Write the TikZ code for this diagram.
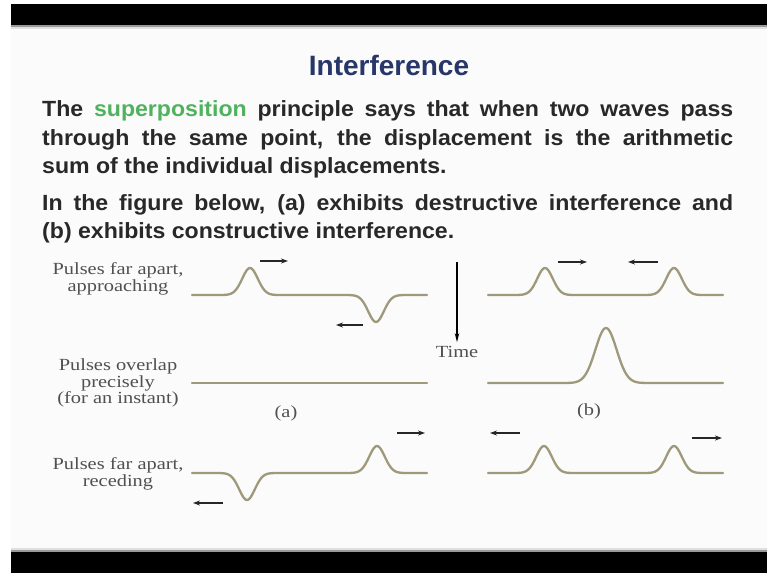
\documentclass[tikz,border=0pt]{standalone}
\usepackage{fontspec}
\setmainfont{Liberation Sans}
\newfontfamily\titlefont{Liberation Sans}
\newfontfamily\bodyfont[FakeStretch=1.05]{Liberation Sans}
\newfontfamily\labelfont[FakeStretch=1.2]{Liberation Serif}
\usetikzlibrary{arrows.meta}
\definecolor{navy}{RGB}{40,55,105}
\definecolor{supgreen}{RGB}{80,178,95}
\definecolor{bodytext}{RGB}{40,40,40}
\definecolor{labelgray}{RGB}{80,80,80}
\definecolor{wavecol}{RGB}{158,153,122}
\definecolor{slidebg}{RGB}{251,251,251}
\begin{document}
\begin{tikzpicture}[x=1pt,y=-1pt,
  wave/.style={draw=wavecol, line width=2.3pt, line join=round, line cap=round},
  motion/.style={draw=black!85, line width=1.4pt, -{Stealth[length=7pt,width=5pt]}},
  lbl/.style={font=\labelfont\fontsize{17}{16.5}\selectfont, text=labelgray, align=center, inner sep=0pt},
  bodyline/.style={font=\bodyfont\bfseries\fontsize{22}{26}\selectfont, text=bodytext, anchor=base west, inner sep=0pt},
]
\useasboundingbox (0,0) rectangle (767,573);
\fill[white] (0,0) rectangle (767,573);
\fill[slidebg] (11,4) rectangle (767,573);
% black bars
\fill[black] (11,4) rectangle (767,25);
\fill[black!40] (11,25) rectangle (767,27);
\fill[black!12] (11,27) rectangle (767,29);
\fill[black!12] (11,548) rectangle (767,550);
\fill[black!40] (11,550) rectangle (767,552);
\fill[black] (11,552) rectangle (767,573);

% title and text
\node[font=\titlefont\bfseries\fontsize{28}{32}\selectfont, text=navy, anchor=base, inner sep=0pt] (title) at (389,75) {Interference};
\node[bodyline] (l1) at (42,116) {\makebox[691pt][s]{The \textcolor{supgreen}{superposition} principle says that when two waves pass}};
\node[bodyline] (l2) at (42,145) {\makebox[691pt][s]{through the same point, the displacement is the arithmetic}};
\node[bodyline] (l3) at (42,173) {sum of the individual displacements.};
\node[bodyline] (l4) at (42,210) {\makebox[691pt][s]{In the figure below, (a) exhibits destructive interference and}};
\node[bodyline] (l5) at (42,238) {(b) exhibits constructive interference.};

% labels
\node[lbl] (p1) at (118,279) {Pulses far apart,\\approaching};
\node[lbl] (p2) at (118,383) {Pulses overlap\\precisely\\(for an instant)};
\node[lbl] (p3) at (118,474) {Pulses far apart,\\receding};
\node[lbl] (la) at (286,413) {(a)};
\node[lbl] (lb) at (589,411) {(b)};
\node[lbl] (time) at (457,352) {Time};
\coordinate (tstart) at (457,262);
\draw[line width=1.1pt, -{Stealth[length=9pt,width=4.5pt]}, shorten >=4pt] (tstart) -- (time.north);

% (a) row 1
\draw[wave] (192,295) -- (220,295)
  -- plot[domain=220:280,samples=49] (\x,{295-27*exp(-((\x-250)/11)*((\x-250)/11))})
  -- (346,295)
  -- plot[domain=346:406,samples=49] (\x,{295+27*exp(-((\x-376)/11)*((\x-376)/11))})
  -- (427,295);
% (b) row 1
\draw[wave] (488,295) -- (515,295)
  -- plot[domain=515:575,samples=49] (\x,{295-27*exp(-((\x-545)/11)*((\x-545)/11))})
  -- (644,295)
  -- plot[domain=644:704,samples=49] (\x,{295-27*exp(-((\x-674)/11)*((\x-674)/11))})
  -- (723,295);
% row 2
\draw[wave] (192,383) -- (427,383);
\draw[wave] (488,383) -- (564,383)
  -- plot[domain=564:648,samples=61] (\x,{383-55*exp(-((\x-606)/15)*((\x-606)/15))})
  -- (723,383);
% (a) row 3
\draw[wave] (192,473) -- (217,473)
  -- plot[domain=217:277,samples=49] (\x,{473+27*exp(-((\x-247)/11)*((\x-247)/11))})
  -- (347,473)
  -- plot[domain=347:407,samples=49] (\x,{473-27*exp(-((\x-377)/11)*((\x-377)/11))})
  -- (427,473);
% (b) row 3
\draw[wave] (488,473) -- (514,473)
  -- plot[domain=514:574,samples=49] (\x,{473-27*exp(-((\x-544)/11)*((\x-544)/11))})
  -- (644,473)
  -- plot[domain=644:704,samples=49] (\x,{473-27*exp(-((\x-674)/11)*((\x-674)/11))})
  -- (723,473);

% motion arrows
\draw[motion] (260,261) -- (288,261);
\draw[motion] (363,325) -- (336,325);
\draw[motion] (558,262) -- (587,262);
\draw[motion] (658,262) -- (628,262);
\draw[motion] (397,433) -- (425,433);
\draw[motion] (223,503) -- (193,503);
\draw[motion] (520,433) -- (490,433);
\draw[motion] (692,438) -- (722,438);
\end{tikzpicture}
\end{document}
